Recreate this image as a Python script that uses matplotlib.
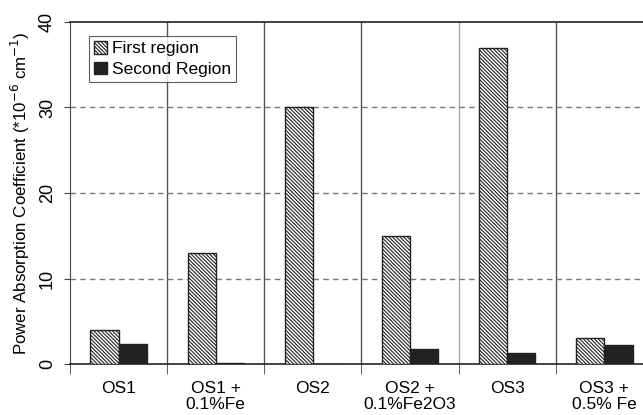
import numpy as np
import matplotlib
matplotlib.use("Agg")
import matplotlib.pyplot as plt

plt.rcParams['font.family'] = ['Liberation Sans', 'DejaVu Sans']
plt.rcParams['hatch.linewidth'] = 0.8
plt.rcParams['hatch.color'] = '#333333'

# absorption coefficients per sample (*1e-6 cm^-1)
samples = ["OS1", "OS1 +\n0.1%Fe", "OS2", "OS2 +\n0.1%Fe2O3", "OS3", "OS3 +\n0.5% Fe"]
first_region = [4.0, 13.0, 30.0, 15.0, 37.0, 3.0]
second_region = [2.35, 0.1, 0.0, 1.7, 1.25, 2.2]

fig = plt.figure(figsize=(6.43, 4.15), dpi=100)
ax = fig.add_axes([70 / 643, 1 - 364 / 415, 583 / 643, 342 / 415])

x = np.arange(len(samples))
w = 0.29
ax.bar(x - w / 2, first_region, w, color='white', edgecolor='#222222',
       hatch='\\' * 9, linewidth=1.0, label='First region', zorder=3)
ax.bar(x + w / 2, second_region, w, color='#222222', edgecolor='#222222',
       linewidth=1.0, label='Second Region', zorder=3)

ax.set_xlim(-0.5, len(samples) - 0.5)
ax.set_ylim(0, 40)

# category separators
for b in np.arange(0.5, len(samples) - 0.5):
    c = '#aaaaaa' if b == 3.5 else '#555555'
    ax.axvline(b, color=c, linewidth=1.0, zorder=1)

for yv in [10, 20, 30]:
    ax.axhline(yv, color='#777777', linestyle=(0, (4, 3)), linewidth=1.0, zorder=1)

ax.spines['right'].set_visible(False)
ax.spines['top'].set_color('#222222')
ax.spines['left'].set_color('#444444')
ax.spines['bottom'].set_color('#222222')
ax.spines['top'].set_linewidth(1.2)
ax.spines['bottom'].set_linewidth(1.2)

ax.set_xticks(x)
ax.set_xticklabels(samples, fontsize=12.5, linespacing=1.1, va='top')
ax.tick_params(axis='x', length=0, pad=12)
ax.set_xticks(np.arange(-0.5, len(samples)), minor=True)
ax.tick_params(axis='x', which='minor', length=7, color='#444444', direction='out')

ax.set_yticks([0, 10, 20, 30, 40])
ax.set_yticklabels(['0', '10', '20', '30', '40'], rotation=90, va='center', fontsize=13)
ax.tick_params(axis='y', length=4, color='#444444', pad=6)

ax.set_ylabel('Power Absorption Coefficient (*10$^{-6}$ cm$^{-1}$)', fontsize=12.2, labelpad=5)

leg = ax.legend(loc='upper left', bbox_to_anchor=(0.032, 0.96), fontsize=12.5,
                frameon=True, fancybox=False, edgecolor='#333333',
                handlelength=0.75, handleheight=0.75, handletextpad=0.3,
                borderpad=0.3, labelspacing=0.3, borderaxespad=0)
leg.get_frame().set_linewidth(0.8)

fig.savefig('out.png', dpi=100)
